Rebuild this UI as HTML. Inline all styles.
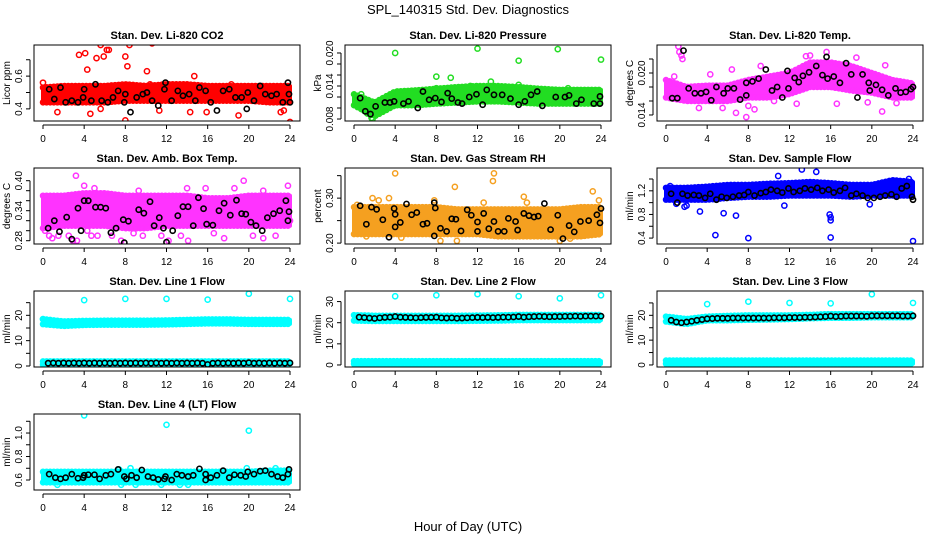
<!DOCTYPE html>
<html><head><meta charset="utf-8"><style>
body{margin:0;background:#fff}
svg{display:block;font-family:"Liberation Sans",Arial,sans-serif}
</style></head><body>
<svg id="c" width="936" height="540">
<text x="468" y="14" text-anchor="middle" font-size="13">SPL_140315  Std. Dev. Diagnostics</text>
<text x="468" y="531" text-anchor="middle" font-size="13">Hour of Day (UTC)</text>
</svg>
<script>
// ---- data ----
const bandHours=[0,2,4,6,8,10,12,14,16,18,20,22,24];
const xTicks=[0,4,8,12,16,20,24];
const co2Lo=[0.44,0.44,0.44,0.44,0.45,0.45,0.45,0.45,0.45,0.45,0.45,0.44,0.44];
const co2Hi=[0.53,0.54,0.54,0.54,0.55,0.54,0.55,0.55,0.54,0.54,0.54,0.54,0.54];
const co2Out=[[0,0.56],[1.4,0.38],[3.5,0.73],[3.7,0.82],[4.1,0.74],[4.3,0.64],[4.6,0.37],[5.6,0.40],[5.6,0.79],[5.9,0.72],[6.2,0.76],[6.4,0.76],[8,0.33],[8,0.72],[8.2,0.66],[8.4,0.79],[10.1,0.63],[10.4,0.55],[10.6,0.80],[11.3,0.39],[14.3,0.38],[14.7,0.60],[15.9,0.38],[18.3,0.55],[19,0.36],[21.2,0.50],[23.1,0.38],[23.4,0.39],[24,0.32],[5.2,0.71]];
const co2Black=[[0.6,0.52],[1.1,0.46],[1.7,0.53],[2.2,0.44],[2.8,0.45],[3.4,0.44],[3.9,0.47],[4,0.52],[4.7,0.45],[5.1,0.55],[5.7,0.45],[6.3,0.44],[6.8,0.47],[7.3,0.51],[7.9,0.44],[8,0.49],[8.5,0.38],[9.1,0.47],[9.7,0.49],[10.1,0.50],[10.6,0.45],[11.2,0.42],[11.8,0.52],[11.9,0.56],[12.5,0.45],[13.1,0.51],[13.6,0.48],[14.2,0.49],[14.8,0.45],[15.2,0.53],[15.8,0.51],[16.3,0.44],[16.9,0.39],[17.5,0.51],[18.1,0.52],[18.7,0.47],[19.3,0.47],[19.8,0.40],[19.9,0.50],[20.5,0.45],[21.1,0.54],[21.6,0.49],[22.2,0.48],[22.7,0.49],[23.3,0.44],[23.8,0.56],[23.9,0.49],[24,0.44]];
const presLo=[0.0105,0.0085,0.0105,0.0105,0.0108,0.0110,0.0112,0.0112,0.0110,0.0108,0.0108,0.0108,0.0108];
const presHi=[0.0125,0.0110,0.0130,0.0132,0.0135,0.0138,0.0140,0.0140,0.0138,0.0135,0.0133,0.0133,0.0133];
const presOut=[[4,0.0200],[8,0.0157],[9.4,0.0155],[12,0.0208],[13.3,0.0148],[16,0.0186],[16,0.0142],[19.8,0.0207],[24,0.0188],[20.8,0.0136],[1.7,0.0082],[1.8,0.0080],[1.3,0.0090],[0.7,0.0125],[8,0.0136],[11.3,0.0140],[0.3,0.0112],[1,0.0095]];
const presBlack=[[0.6,0.0118],[1.1,0.0094],[1.6,0.0089],[2.1,0.0103],[3,0.0110],[3.5,0.0110],[3.9,0.0112],[4.8,0.0108],[5.3,0.0112],[6.2,0.0100],[6.7,0.0130],[7.3,0.0115],[7.9,0.0118],[8.5,0.0111],[9.1,0.0127],[9.5,0.0117],[10.1,0.0110],[10.5,0.0108],[11.2,0.0120],[11.9,0.0125],[12.5,0.0106],[12.9,0.0133],[13.6,0.0124],[14.4,0.0124],[15.2,0.0117],[16,0.0106],[16.6,0.0112],[17.2,0.0124],[17.8,0.0130],[18.3,0.0104],[19.6,0.0120],[20.5,0.0120],[20.9,0.0123],[21.6,0.0108],[22.1,0.0115],[23.3,0.0108],[23.9,0.0108],[23.9,0.0121]];
const tempLo=[0.0165,0.0160,0.0160,0.0160,0.0165,0.0165,0.0170,0.0180,0.0180,0.0175,0.0172,0.0165,0.0165];
const tempHi=[0.0190,0.0180,0.0182,0.0182,0.0190,0.0195,0.0200,0.0215,0.0215,0.0210,0.0200,0.0190,0.0185];
const tempOut=[[1.2,0.0238],[1.3,0.0230],[1.5,0.0225],[1.6,0.0220],[0.8,0.0195],[3.2,0.0150],[5.5,0.0150],[6.8,0.0143],[7.8,0.0137],[8,0.0153],[8.6,0.0148],[9.2,0.0210],[6.4,0.0205],[12.7,0.0156],[13.6,0.0224],[14,0.0225],[15.6,0.0230],[16.6,0.0156],[18.5,0.0222],[19.6,0.0158],[21,0.0145],[21.3,0.0211],[22.4,0.0157],[4.3,0.0198],[10.5,0.0160],[0.2,0.0175],[0.5,0.0185]];
const tempBlack=[[0.6,0.0164],[1.1,0.0164],[1.7,0.0232],[2.2,0.0178],[2.8,0.0171],[3.4,0.0171],[3.9,0.0173],[4.4,0.0161],[4.9,0.0180],[5.6,0.0171],[6,0.0178],[6.6,0.0178],[7.2,0.0162],[7.8,0.0168],[7.8,0.0186],[8.4,0.0188],[9,0.0192],[9.7,0.0205],[10.3,0.0175],[10.8,0.0180],[11.3,0.0165],[11.8,0.0203],[11.9,0.0178],[12.5,0.0193],[12.9,0.0187],[13.3,0.0196],[13.9,0.0201],[14.6,0.0210],[15.2,0.0197],[15.6,0.0223],[15.7,0.0192],[16.3,0.0195],[16.9,0.0186],[17.5,0.0214],[18,0.0198],[18.6,0.0165],[19.1,0.0198],[19.7,0.0186],[19.8,0.0175],[20.4,0.0183],[21,0.0176],[21.6,0.0168],[22.3,0.0178],[22.8,0.0172],[23.3,0.0173],[23.8,0.0177],[24,0.0180]];
const boxLo=[0.305,0.31,0.31,0.31,0.305,0.305,0.31,0.31,0.31,0.31,0.31,0.31,0.31];
const boxHi=[0.37,0.37,0.375,0.375,0.37,0.37,0.37,0.37,0.365,0.365,0.37,0.37,0.37];
const boxOut=[[3.2,0.41],[0.2,0.30],[0.6,0.29],[0.9,0.285],[1.5,0.29],[2.5,0.29],[2.9,0.28],[3.3,0.28],[4.3,0.30],[4.7,0.29],[5.3,0.29],[6.7,0.29],[7.6,0.28],[9.7,0.29],[11.5,0.29],[12.2,0.28],[13.4,0.29],[14.1,0.28],[15.8,0.385],[17.6,0.285],[19.5,0.40],[21.4,0.285],[22.6,0.29],[23.8,0.39],[24,0.32],[5,0.385],[9.3,0.38],[14,0.385],[18.6,0.385],[21.4,0.38],[0.2,0.36],[4,0.39],[8.8,0.295],[16.6,0.295],[20.4,0.29]];
const boxBlack=[[0.5,0.305],[1.1,0.320],[1.6,0.298],[2.3,0.327],[2.8,0.283],[3.4,0.345],[3.7,0.300],[4,0.36],[4.4,0.36],[5.1,0.347],[5.6,0.347],[6.1,0.345],[6.6,0.296],[7.1,0.305],[7.8,0.322],[7.9,0.276],[8.3,0.319],[9.3,0.342],[9.8,0.335],[10.4,0.358],[10.8,0.310],[11.3,0.326],[11.7,0.305],[12,0.277],[12.6,0.300],[13.1,0.330],[13.6,0.348],[14.1,0.348],[14.6,0.310],[15.1,0.366],[15.6,0.344],[15.9,0.313],[16.5,0.311],[17.1,0.340],[17.6,0.355],[18.2,0.331],[18.8,0.361],[19.3,0.334],[19.7,0.333],[20.2,0.317],[20.7,0.310],[21.3,0.300],[21.8,0.326],[22.4,0.334],[23,0.340],[23.6,0.360],[23.8,0.320],[23.9,0.338]];
const rhLo=[0.22,0.22,0.22,0.22,0.22,0.22,0.22,0.215,0.215,0.215,0.215,0.215,0.22];
const rhHi=[0.28,0.28,0.28,0.28,0.28,0.275,0.275,0.275,0.275,0.275,0.275,0.28,0.28];
const rhOut=[[4,0.355],[9.8,0.325],[13.5,0.338],[13.6,0.355],[16.5,0.303],[23.2,0.315],[8.4,0.205],[10,0.205],[21,0.21],[20,0.205],[1.8,0.30],[3.4,0.30],[2.4,0.295],[7.8,0.295],[23.8,0.295],[16.8,0.29],[12.6,0.29],[0.3,0.285],[1.2,0.215],[4.6,0.212]];
const rhBlack=[[0.6,0.283],[1.2,0.242],[1.7,0.280],[2.2,0.275],[2.8,0.252],[3.4,0.213],[3.9,0.277],[4,0.264],[4,0.236],[4.5,0.246],[5.1,0.287],[5.6,0.263],[6.1,0.268],[6.7,0.242],[7.1,0.244],[7.8,0.290],[7.9,0.278],[7.8,0.216],[8.4,0.233],[9,0.226],[9.5,0.254],[9.9,0.253],[10.4,0.227],[11,0.274],[11.4,0.262],[12,0.247],[12,0.226],[12.6,0.266],[13.1,0.232],[13.6,0.248],[14,0.226],[14.6,0.226],[15,0.255],[15.7,0.248],[15.9,0.229],[16.5,0.266],[17,0.261],[17.5,0.258],[17.9,0.260],[18.5,0.288],[19.1,0.230],[19.8,0.262],[20.3,0.210],[20.9,0.239],[21.4,0.225],[22,0.248],[22.8,0.250],[23.6,0.263],[23.9,0.245],[24,0.277]];
const flowLo=[1.05,1.05,1.05,1.08,1.10,1.10,1.12,1.12,1.12,1.10,1.12,1.12,1.12];
const flowHi=[1.25,1.25,1.27,1.30,1.30,1.32,1.33,1.35,1.33,1.30,1.30,1.38,1.35];
const flowOut=[[4.8,0.45],[8,0.40],[16,0.41],[24,0.35],[6.8,0.78],[5.6,0.82],[3.3,0.85],[15.9,0.80],[16,0.75],[16,0.70],[13.2,1.56],[14.6,1.52],[0.4,1.28],[1,0.98],[2,0.95],[11.5,0.95],[19.8,0.97],[23.6,1.40],[1.8,0.93],[10.9,1.45]];
const flowBlack=[[0.5,1.15],[1.1,1.00],[1.6,1.15],[2.1,1.12],[2.7,1.13],[3.2,1.12],[3.8,1.08],[4.3,1.15],[4.9,1.05],[5.4,1.10],[5.9,1.08],[6.5,1.10],[7.1,1.12],[7.6,1.13],[8,1.18],[8.6,1.12],[9.2,1.16],[9.7,1.18],[10.2,1.22],[10.8,1.20],[11.3,1.17],[11.9,1.24],[12.4,1.18],[13,1.20],[13.5,1.24],[14.1,1.22],[14.7,1.25],[15.2,1.20],[15.8,1.22],[16.3,1.17],[16.9,1.20],[17.4,1.25],[18,1.12],[18.5,1.15],[19.1,1.12],[19.6,1.08],[20.2,1.08],[20.8,1.10],[21.3,1.12],[21.9,1.14],[22.4,1.10],[22.9,1.24],[23.4,1.28],[23.9,1.10],[24,1.05]];
const lowLo=[0.5,0.5,0.5,0.5,0.5,0.5,0.5,0.5,0.5,0.5,0.5,0.5,0.5];
const lowHi=[1.8,1.8,1.8,1.8,1.8,1.8,1.8,1.8,1.8,1.8,1.8,1.8,1.8];
const l1Lo=[16.5,15.8,16.2,16.3,16.3,16.3,16.4,16.6,16.8,16.8,16.6,16.6,16.6];
const l1Hi=[18.5,17.6,17.8,17.9,17.9,17.9,18.0,18.2,18.4,18.4,18.2,18.2,18.2];
const l1Out=[[4,26],[8,26.5],[12,26.5],[16,26.2],[20,28.5],[24,26.5],[0,18.5]];
const halfHours=[0.5,1,1.5,2,2.5,3,3.5,4,4.5,5,5.5,6,6.5,7,7.5,8,8.5,9,9.5,10,10.5,11,11.5,12,12.5,13,13.5,14,14.5,15,15.5,16,16.5,17,17.5,18,18.5,19,19.5,20,20.5,21,21.5,22,22.5,23,23.5,24];
const l1Black=[1.1,1.2,1.1,1.2,1.1,1.2,1.1,1.2,1.1,1.2,1.1,1.2,1.1,1.2,1.1,1.2,1.1,1.2,1.1,1.2,1.1,1.2,1.1,1.2,1.1,1.2,1.1,1.2,1.1,1.2,1.1,0.6,1.1,1.2,1.1,1.2,1.1,1.2,1.1,1.3,1.1,1.2,1.1,1.2,1.1,1.2,1.1,1.2];
const l2Lo=[21.0,20.8,20.8,20.8,20.8,20.8,20.9,21.0,21.2,21.2,21.2,21.2,21.2];
const l2Hi=[23.6,23.3,23.3,23.3,23.3,23.3,23.4,23.5,23.7,23.7,23.7,23.7,23.7];
const l2Out=[[4,32.5],[8,33],[12,33.5],[16,32.5],[20,31.5],[24,33]];
const l2Black=[22.6,22.4,22.2,22.0,22.3,22.5,22.6,22.9,22.6,22.5,22.4,22.3,22.4,22.5,22.5,22.6,22.3,22.2,22.3,22.1,22.2,22.3,22.4,22.5,22.4,22.5,22.4,22.5,22.6,22.6,22.7,22.9,22.6,22.8,22.9,23.0,22.9,22.8,22.9,22.9,23.0,23.0,23.1,23.0,23.1,23.1,23.1,23.1];
const l3Lo=[17.5,16.5,18.0,18.0,18.2,18.3,18.5,18.8,19.0,19.0,19.2,19.2,19.2];
const l3Hi=[19.5,18.5,19.5,19.8,20.0,20.0,20.0,20.2,20.5,20.5,20.5,20.5,20.5];
const l3Out=[[4,24.5],[8,25.5],[12,25],[16,24.8],[20,28.5],[24,25]];
const l3Black=[18.0,17.3,17.0,17.3,17.6,18.0,18.3,18.6,18.7,18.8,18.8,18.8,18.9,18.9,18.9,18.9,18.9,18.9,18.9,18.9,19.0,19.0,19.0,19.1,19.1,19.1,19.2,19.2,19.3,19.4,19.5,19.7,19.5,19.6,19.7,19.7,19.7,19.7,19.6,19.8,19.8,19.8,19.8,19.8,19.8,19.7,19.7,19.8];
const l4Lo=[0.58,0.58,0.58,0.58,0.58,0.58,0.58,0.58,0.58,0.58,0.58,0.58,0.58];
const l4Hi=[0.67,0.67,0.67,0.67,0.67,0.67,0.67,0.67,0.67,0.67,0.67,0.68,0.68];
const l4Out=[[4,1.15],[12,1.07],[20,1.02],[8.5,0.70],[1.4,0.56],[7.6,0.56],[9,0.56],[11.5,0.56],[13.3,0.56],[14.1,0.56],[22.6,0.70],[7.4,0.69],[19.8,0.70]];
const l4Black=[[0.6,0.65],[1.2,0.62],[1.7,0.61],[2.2,0.62],[2.8,0.65],[3.4,0.615],[3.9,0.62],[4,0.64],[4.4,0.645],[5,0.645],[5.5,0.61],[6.1,0.64],[6.6,0.65],[7.3,0.69],[7.9,0.63],[8.1,0.61],[8.6,0.64],[9.1,0.62],[9.6,0.685],[10.2,0.63],[10.7,0.62],[11.2,0.605],[11.8,0.61],[11.9,0.63],[12.5,0.60],[13,0.65],[13.5,0.64],[14.1,0.63],[14.6,0.64],[15.2,0.695],[15.8,0.65],[15.8,0.60],[16.3,0.62],[16.9,0.64],[17.5,0.68],[18.1,0.62],[18.6,0.645],[19.2,0.64],[19.7,0.63],[19.9,0.67],[20.5,0.65],[21.1,0.675],[21.6,0.68],[22.2,0.65],[22.8,0.63],[23.3,0.62],[23.8,0.65],[23.9,0.69]];

// ---- layout ----
const colX=[34,345,657], rowY=[45,168,291,414], PW=266, PH=76;
const panels=[
 {name:'co2',title:'Stan. Dev. Li-820 CO2',yl:'Licor ppm',c:0,r:0,top:0.79,bot:0.326,ticks:[0.4,0.5,0.6,0.7],labs:['0.4','','0.6',''],col:'#ff0000',lo:co2Lo,hi:co2Hi,out:co2Out,blk:co2Black},
 {name:'pressure',title:'Stan. Dev. Li-820 Pressure',yl:'kPa',c:1,r:0,top:0.02145,bot:0.00764,ticks:[0.008,0.010,0.012,0.014,0.016,0.018,0.020],labs:['0.008','','','0.014','','','0.020'],col:'#22dd22',lo:presLo,hi:presHi,out:presOut,blk:presBlack},
 {name:'temp',title:'Stan. Dev. Li-820 Temp.',yl:'degrees C',c:2,r:0,top:0.024,bot:0.01314,ticks:[0.014,0.016,0.018,0.020,0.022],labs:['0.014','','','0.020',''],col:'#ff33ff',lo:tempLo,hi:tempHi,out:tempOut,blk:tempBlack},
 {name:'box-temp',title:'Stan. Dev. Amb. Box Temp.',yl:'degrees C',c:0,r:1,top:0.4254,bot:0.2734,ticks:[0.28,0.30,0.32,0.34,0.36,0.38,0.40],labs:['0.28','','','0.34','','','0.40'],col:'#ff33ff',lo:boxLo,hi:boxHi,out:boxOut,blk:boxBlack},
 {name:'rh',title:'Stan. Dev. Gas Stream RH',yl:'percent',c:1,r:1,top:0.367,bot:0.198,ticks:[0.20,0.25,0.30,0.35],labs:['0.20','','0.30',''],col:'#f5a020',lo:rhLo,hi:rhHi,out:rhOut,blk:rhBlack},
 {name:'sample-flow',title:'Stan. Dev. Sample Flow',yl:'ml/min',c:2,r:1,top:1.586,bot:0.30,ticks:[0.4,0.6,0.8,1.0,1.2,1.4],labs:['0.4','','0.8','','1.2',''],col:'#0000ff',lo:flowLo,hi:flowHi,out:flowOut,blk:flowBlack},
 {name:'line1',title:'Stan. Dev. Line 1 Flow',yl:'ml/min',c:0,r:2,top:29.6,bot:-0.4,ticks:[0,5,10,15,20,25],labs:['0','','10','','20',''],col:'#00ffff',lo:l1Lo,hi:l1Hi,lo2:lowLo,hi2:lowHi,out:l1Out,bh:l1Black},
 {name:'line2',title:'Stan. Dev. Line 2 Flow',yl:'ml/min',c:1,r:2,top:35.0,bot:-0.96,ticks:[0,10,20,30],labs:['0','10','20','30'],col:'#00ffff',lo:l2Lo,hi:l2Hi,lo2:lowLo,hi2:lowHi,out:l2Out,bh:l2Black},
 {name:'line3',title:'Stan. Dev. Line 3 Flow',yl:'ml/min',c:2,r:2,top:29.8,bot:-0.82,ticks:[0,5,10,15,20,25],labs:['0','','10','','20',''],col:'#00ffff',lo:l3Lo,hi:l3Hi,lo2:lowLo,hi2:lowHi,out:l3Out,bh:l3Black},
 {name:'line4',title:'Stan. Dev. Line 4 (LT) Flow',yl:'ml/min',c:0,r:3,top:1.162,bot:0.515,ticks:[0.6,0.7,0.8,0.9,1.0,1.1],labs:['0.6','','0.8','','1.0',''],col:'#00ffff',lo:l4Lo,hi:l4Hi,out:l4Out,blk:l4Black}
];
const NS='http://www.w3.org/2000/svg', svg=document.getElementById('c');
function mk(tag,at,parent){const e=document.createElementNS(NS,tag);for(const k in at)e.setAttribute(k,at[k]);(parent||svg).appendChild(e);return e;}
function interp(arr,h){const i=Math.min(11,Math.floor(h/2));const t=(h-bandHours[i])/2;return arr[i]+(arr[i+1]-arr[i])*t;}

panels.forEach(p=>{
  const L=colX[p.c],T=rowY[p.r];
  const xs=h=>L+9+h*(247/24);
  const ys=v=>T+(p.top-v)/(p.top-p.bot)*PH;
  const g=mk('g',{});
  
  
  const clip=mk('clipPath',{id:'cl'+p.name},g);mk('rect',{x:L,y:T,width:PW,height:PH},clip);
  const pg=mk('g',{'clip-path':'url(#cl'+p.name+')'},g);
  function band(lo,hi,col,nm){
    let pts=bandHours.map((h,i)=>xs(h)+','+ys(lo[i]));
    pts=pts.concat(bandHours.map((h,i)=>xs(h)+','+ys(hi[i])).reverse());
    const b=mk('polygon',{points:pts.join(' '),fill:col,stroke:col,'stroke-width':4,'stroke-linejoin':'round'},pg);
    
    
    for(let h=0;h<=24;h+=0.35){
      mk('circle',{cx:xs(h),cy:ys(interp(lo,h)),r:2.5,fill:'none',stroke:col,'stroke-width':1.5},pg);
      mk('circle',{cx:xs(h),cy:ys(interp(hi,h)),r:2.5,fill:'none',stroke:col,'stroke-width':1.5},pg);
    }
  }
  band(p.lo,p.hi,p.col,p.name+'-band');
  if(p.lo2)band(p.lo2,p.hi2,p.col,p.name+'-low-band');
  p.out.forEach(d=>{const e=mk('circle',{cx:xs(d[0]),cy:ys(d[1]),r:2.6,fill:'none',stroke:p.col,'stroke-width':1.5},pg);
    
    });
  const blk=p.blk?p.blk:halfHours.map((h,i)=>[h,p.bh[i]]);
  blk.forEach(d=>{const e=mk('circle',{cx:xs(d[0]),cy:ys(d[1]),r:2.6,fill:'none',stroke:'#000','stroke-width':1.6},pg);
    
    });
  const fr=mk('rect',{x:L,y:T,width:PW,height:PH,fill:'none',stroke:'#000','stroke-width':1},g);
  
  
  const tt=mk('text',{x:L+PW/2,y:T-6,'text-anchor':'middle','font-size':11,'font-weight':'bold'},g);tt.textContent=p.title;
  
  
  mk('line',{x1:xs(0),x2:xs(24),y1:T+PH+4,y2:T+PH+4,stroke:'#000'},g);
  xTicks.forEach(h=>{mk('line',{x1:xs(h),x2:xs(h),y1:T+PH+4,y2:T+PH+8,stroke:'#000'},g);
    const t=mk('text',{x:xs(h),y:T+PH+21,'text-anchor':'middle','font-size':10},g);t.textContent=h;
    
    });
  mk('line',{x1:L-4,x2:L-4,y1:ys(p.ticks[0]),y2:ys(p.ticks[p.ticks.length-1]),stroke:'#000'},g);
  p.ticks.forEach((v,i)=>{mk('line',{x1:L-8,x2:L-4,y1:ys(v),y2:ys(v),stroke:'#000'},g);
    if(p.labs[i]){const t=mk('text',{x:L-12,y:ys(v),'text-anchor':'middle','font-size':10,transform:'rotate(-90 '+(L-12)+' '+ys(v)+')'},g);t.textContent=p.labs[i];
    
    }});
  const yl=mk('text',{x:L-24,y:T+PH/2,'text-anchor':'middle','font-size':10,transform:'rotate(-90 '+(L-24)+' '+(T+PH/2)+')'},g);yl.textContent=p.yl;
  
  
});
</script>
</body></html>
